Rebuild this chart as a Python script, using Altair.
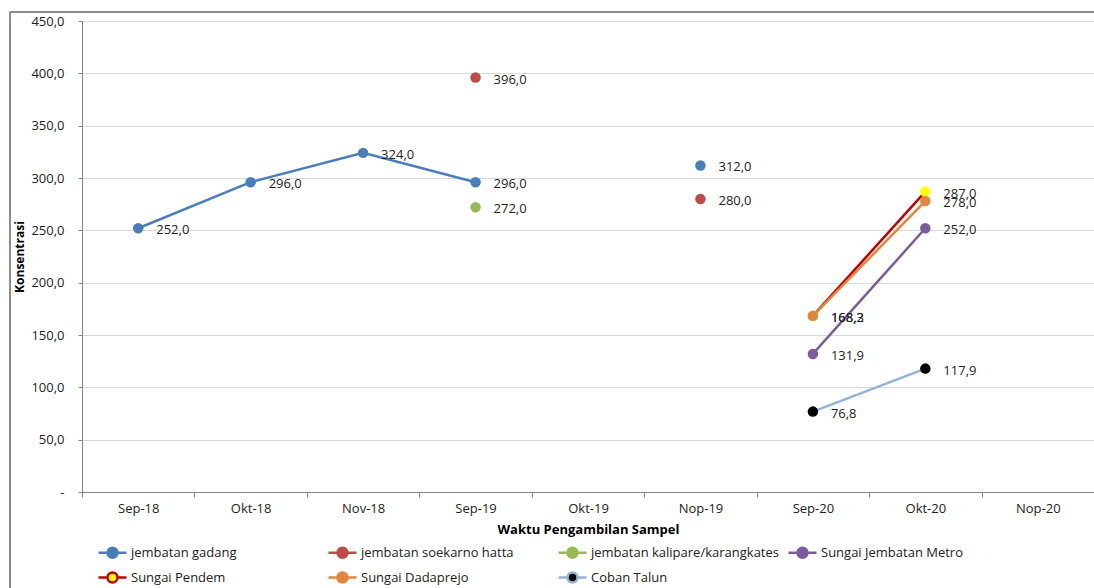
import altair as alt
import pandas as pd

months = ["Sep-18", "Okt-18", "Nov-18", "Sep-19", "Okt-19", "Nop-19", "Sep-20", "Okt-20", "Nop-20"]
series_names = [
    "jembatan gadang",
    "jembatan soekarno hatta",
    "jembatan kalipare/karangkates",
    "Sungai Jembatan Metro",
    "Sungai Pendem",
    "Sungai Dadaprejo",
    "Coban Talun",
]
gadang = [252.0, 296.0, 324.0, 296.0, None, 312.0, None, None, None]
soekarno = [None, None, None, 396.0, None, 280.0, None, None, None]
kalipare = [None, None, None, 272.0, None, None, None, None, None]
metro = [None, None, None, None, None, None, 131.9, 252.0, None]
pendem = [None, None, None, None, None, None, 168.2, 287.0, None]
dadaprejo = [None, None, None, None, None, None, 168.3, 278.0, None]
coban = [None, None, None, None, None, None, 76.8, 117.9, None]
all_values = [gadang, soekarno, kalipare, metro, pendem, dadaprejo, coban]

line_colors = ["#4A7EBB", "#BE4B48", "#98B954", "#7A5C9E", "#C00000", "#E2863C", "#95B3D7"]
marker_colors = ["#4A7EBB", "#BE4B48", "#98B954", "#7A5C9E", "#FFFF00", "#E2863C", "#000000"]

FONT = "Open Sans"

rows = []
for name, vals in zip(series_names, all_values):
    seg = 0
    for m, v in zip(months, vals):
        if v is None:
            seg += 1
            continue
        rows.append({
            "series": name,
            "month": m,
            "value": v,
            "seg": f"{name}_{seg}",
            "label": f"{v:.1f}".replace(".", ","),
        })
df = pd.DataFrame(rows)
seg_counts = df["seg"].value_counts()
line_df = df[df["seg"].map(seg_counts) > 1]

legend = alt.Legend(
    title=None,
    orient="none",
    direction="horizontal",
    legendX=22,
    legendY=523,
    columns=4,
    gridAlign="all",
    columnPadding=4,
    rowPadding=4,
    padding=0,
    symbolType="M-2,0L-0.71,0M0.71,0L2,0M0.71,0A0.71,0.71,0,1,1,-0.71,0A0.71,0.71,0,1,1,0.71,0Z",
    symbolSize=196,
    symbolStrokeWidth=2.5,
    labelFont=FONT,
    labelFontSize=13,
    labelColor="#222222",
    labelOffset=10,
    labelLimit=400,
)

x_enc = alt.X(
    "month:N",
    sort=months,
    scale=alt.Scale(type="band", domain=months, paddingInner=0, paddingOuter=0),
    axis=alt.Axis(
        title="Waktu Pengambilan Sampel",
        tickBand="extent",
        labelAngle=0,
        labelFont=FONT,
        labelFontSize=13,
        labelColor="#222222",
        labelPadding=5,
        tickSize=5,
        tickColor="#868686",
        domainColor="#868686",
        grid=False,
        titleFont=FONT,
        titleFontSize=13,
        titleFontWeight="bold",
        titleColor="#000000",
        titlePadding=8,
    ),
)
y_enc = alt.Y(
    "value:Q",
    scale=alt.Scale(domain=[0, 450], nice=False, zero=True),
    axis=alt.Axis(
        title="Konsentrasi",
        values=list(range(0, 451, 50)),
        labelExpr="datum.value == 0 ? '-' : replace(format(datum.value, '.1f'), '.', ',')",
        labelFont=FONT,
        labelFontSize=13,
        labelColor="#222222",
        labelPadding=14,
        tickSize=4,
        tickColor="#868686",
        domainColor="#868686",
        gridColor="#D9D9D9",
        gridWidth=1,
        titleFont=FONT,
        titleFontSize=12,
        titleFontWeight="bold",
        titleColor="#000000",
        titlePadding=4,
    ),
)

stroke_enc = alt.Stroke("series:N", scale=alt.Scale(domain=series_names, range=line_colors), legend=legend)
fill_enc = alt.Fill("series:N", scale=alt.Scale(domain=series_names, range=marker_colors), legend=legend)

lines = alt.Chart(line_df).mark_line(strokeWidth=2.5).encode(
    x=x_enc, y=y_enc, stroke=stroke_enc, detail="seg:N"
)
points = alt.Chart(df).mark_circle(size=110, opacity=1).encode(
    x=x_enc, y=y_enc, fill=fill_enc
)
labels = alt.Chart(df).mark_text(
    align="left", baseline="middle", dx=18, dy=2, font=FONT, fontSize=13, color="#222222"
).encode(x=x_enc, y=y_enc, text="label:N")

frame_v = alt.Chart(df).mark_rule(color="#8C8C8C", strokeWidth=1.5).encode(
    x=alt.value(-72), y=alt.value(-9), y2=alt.value(600)
)
frame_h = alt.Chart(df).mark_rule(color="#8C8C8C", strokeWidth=1.5).encode(
    x=alt.value(-72), x2=alt.value(1100), y=alt.value(-9)
)

chart = alt.layer(lines, points, labels, frame_v, frame_h).properties(
    width=1012,
    height=471,
    autosize=alt.AutoSizeParams(type="none"),
    padding={"left": 82, "top": 21, "right": 0, "bottom": 96},
    background="white",
).configure_view(stroke=None)

chart.save("out.html", embed_options={"renderer": "svg", "actions": False})
